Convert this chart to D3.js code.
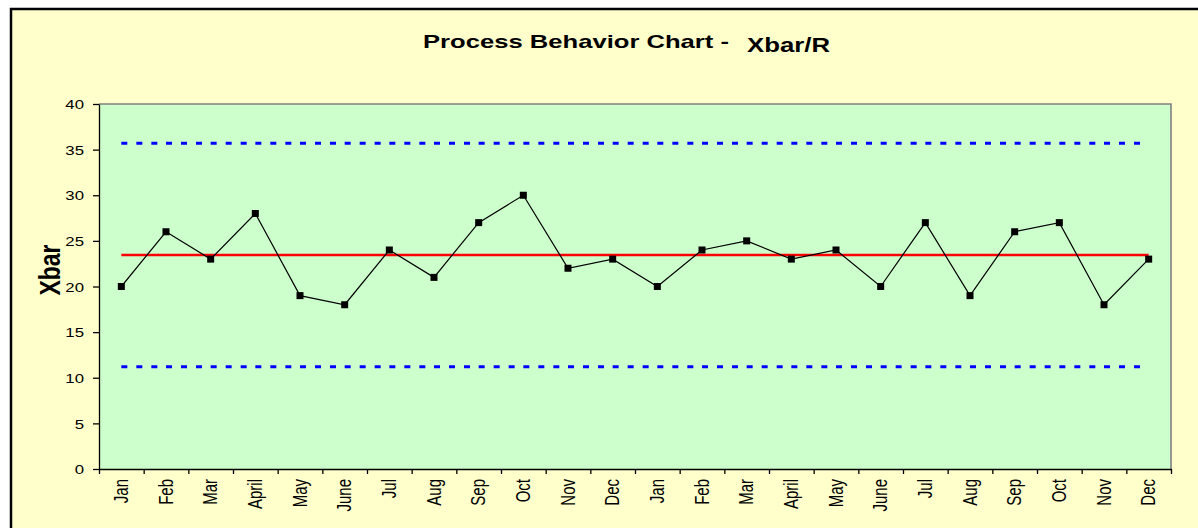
<!DOCTYPE html>
<html lang="en">
<head>
  <meta charset="utf-8">
  <title>Process Behavior Chart - Xbar/R</title>
  <style>
    html,body{margin:0;background:#fff}
    svg{display:block}
    text{font-family:"Liberation Sans",Arial,sans-serif;fill:#000}
  </style>
  <script src="https://d3js.org/d3.v7.min.js"></script>
</head>
<body>
  <svg id="chart" width="1198" height="528"></svg>
  <script>
    // --- data ---
    const months=['Jan','Feb','Mar','April','May','June','Jul','Aug','Sep','Oct','Nov','Dec',
                  'Jan','Feb','Mar','April','May','June','Jul','Aug','Sep','Oct','Nov','Dec'];
    const xbar=[20,26,23,28,19,18,24,21,27,30,22,23,20,24,25,23,24,20,27,19,26,27,18,23];
    const centerLine=23.45, upperLimit=35.7, lowerLimit=11.2;
    const yTicks=[0,5,10,15,20,25,30,35,40];

    const W=1198,H=528;
    const plot={left:99,right:1171,top:104,bottom:469};
    const sx=1.29; // picture is stretched sideways a bit

    const svg=d3.select('#chart');

    // outer chart area
    svg.append('rect').attr('x',11).attr('y',9).attr('width',1200).attr('height',540)
       .attr('fill','#FFFFCC').attr('stroke','#000').attr('stroke-width',2.5);

    // scales
    const x=d3.scaleLinear().domain([0,months.length]).range([plot.left,plot.right]);
    const y=d3.scaleLinear().domain([0,40]).range([plot.bottom,plot.top]);
    const cx=i=>x(i+0.5);

    // plot area
    svg.append('rect').attr('x',plot.left).attr('y',plot.top)
       .attr('width',plot.right-plot.left).attr('height',plot.bottom-plot.top).attr('fill','#CCFFCC');
    svg.append('path').attr('d',`M${plot.left},${plot.top}H${plot.right}V${plot.bottom}`)
       .attr('fill','none').attr('stroke','#808080').attr('stroke-width',1.6);

    // y axis
    const yAx=svg.append('g').attr('transform',`translate(${plot.left},0)`)
       .call(d3.axisLeft(y).tickValues(yTicks).tickSize(6).tickPadding(0).tickSizeOuter(0));
    yAx.select('.domain').attr('stroke','#000').attr('stroke-width',1.3);
    yAx.selectAll('.tick line').attr('stroke','#000').attr('stroke-width',1.3);
    yAx.selectAll('.tick text').attr('font-size',13).attr('x',-15/sx).attr('dy','0.36em')
       .attr('transform',`scale(${sx},1)`).attr('fill','#000');

    // x axis: ticks on category edges, labels at centers
    const xAx=svg.append('g').attr('transform',`translate(0,${plot.bottom})`)
       .call(d3.axisBottom(x).tickValues(d3.range(months.length+1)).tickSize(5).tickFormat('').tickSizeOuter(0));
    xAx.select('.domain').attr('stroke','#000').attr('stroke-width',1.3);
    xAx.selectAll('.tick line').attr('stroke','#000').attr('stroke-width',1.3);
    svg.append('g').selectAll('text').data(months).enter().append('text')
       .attr('transform',(d,i)=>`translate(${cx(i)},${plot.bottom+10}) scale(${sx},1) rotate(-90)`)
       .attr('text-anchor','end').attr('dy','0.35em').attr('font-size',15).text(d=>d);

    // control limits, drawn segment by segment like the original
    const segs=d3.range(months.length-1);
    [upperLimit,lowerLimit].forEach(v=>{
      svg.append('g').selectAll('line').data(segs).enter().append('line')
         .attr('x1',i=>cx(i)).attr('x2',i=>cx(i+1)).attr('y1',y(v)).attr('y2',y(v))
         .attr('stroke','#0000FF').attr('stroke-width',3).attr('stroke-dasharray','6,9');
    });
    svg.append('line').attr('x1',cx(0)).attr('x2',cx(months.length-1))
       .attr('y1',y(centerLine)).attr('y2',y(centerLine))
       .attr('stroke','#FF0000').attr('stroke-width',2.3);

    // data line + markers
    const line=d3.line().x((d,i)=>cx(i)).y(d=>y(d));
    svg.append('path').datum(xbar).attr('d',line).attr('fill','none')
       .attr('stroke','#000').attr('stroke-width',1.2);
    svg.append('g').selectAll('rect').data(xbar).enter().append('rect')
       .attr('x',(d,i)=>cx(i)-3.5).attr('y',d=>y(d)-3.5).attr('width',7).attr('height',7)
       .attr('fill','#000');

    // titles
    svg.append('text').attr('x',423).attr('y',47.5).attr('font-size',18.5).attr('font-weight','bold')
       .attr('textLength',306).attr('lengthAdjust','spacingAndGlyphs').text('Process Behavior Chart -');
    svg.append('text').attr('x',747).attr('y',52).attr('font-size',21).attr('font-weight','bold')
       .attr('textLength',83).attr('lengthAdjust','spacingAndGlyphs').text('Xbar/R');
    svg.append('text').attr('transform',`translate(49,270) scale(${sx},1) rotate(-90)`)
       .attr('text-anchor','middle').attr('dy','0.36em').attr('font-size',23).attr('font-weight','bold')
       .text('Xbar');
  </script>
</body>
</html>
